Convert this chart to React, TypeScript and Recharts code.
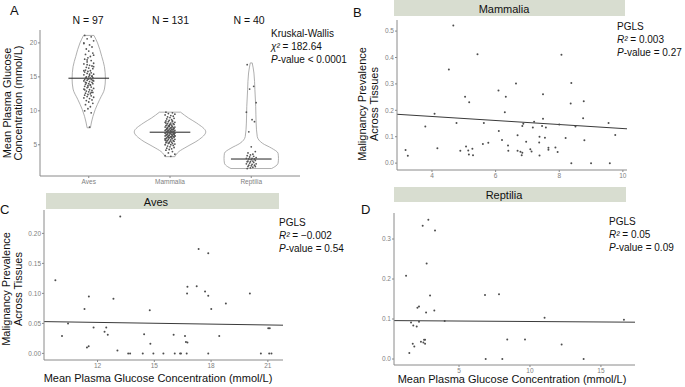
import React from 'react'
import { ComposedChart, Line, Scatter, XAxis, YAxis, ReferenceLine } from 'recharts'

// ---- panel A: glucose by class ----
const groups = ['Aves', 'Mammalia', 'Reptilia']
const groupN = [97, 131, 40]
const medians = [14.8, 6.85, 2.9]

const avesGlucose = [
  21.1, 20.9, 20.6, 20.3, 20.0, 19.7, 19.4, 19.1, 18.8, 18.5,
  18.3, 18.0, 17.8, 17.6, 17.4, 17.2, 17.0, 16.9, 16.7, 16.6,
  16.4, 16.3, 16.2, 16.0, 15.9, 15.8, 15.7, 15.6, 15.5, 15.4,
  15.3, 15.2, 15.1, 15.0, 15.0, 14.9, 14.8, 14.8, 14.7, 14.6,
  14.6, 14.5, 14.4, 14.4, 14.3, 14.2, 14.1, 14.0, 14.0, 13.9,
  13.8, 13.7, 13.6, 13.5, 13.4, 13.3, 13.2, 13.1, 13.0, 12.9,
  12.8, 12.7, 12.6, 12.5, 12.4, 12.3, 12.2, 12.1, 12.0, 11.9,
  11.8, 11.6, 11.5, 11.3, 11.1, 10.9, 10.6, 10.3, 10.0, 9.7,
  16.8, 16.5, 15.9, 15.4, 15.1, 14.9, 14.7, 14.5, 14.2, 13.8,
  13.5, 13.1, 12.7, 17.5, 18.2, 19.9, 7.6,
]
const mammaliaGlucose = [
  9.8, 9.7, 9.6, 9.5, 9.4, 9.3, 9.2, 9.1, 9.0, 8.9,
  8.8, 8.7, 8.6, 8.5, 8.5, 8.4, 8.3, 8.3, 8.2, 8.1,
  8.1, 8.0, 8.0, 7.9, 7.9, 7.8, 7.8, 7.7, 7.7, 7.6,
  7.6, 7.5, 7.5, 7.4, 7.4, 7.4, 7.3, 7.3, 7.2, 7.2,
  7.2, 7.1, 7.1, 7.1, 7.0, 7.0, 7.0, 6.9, 6.9, 6.9,
  6.9, 6.8, 6.8, 6.8, 6.8, 6.7, 6.7, 6.7, 6.6, 6.6,
  6.6, 6.5, 6.5, 6.5, 6.4, 6.4, 6.4, 6.3, 6.3, 6.3,
  6.2, 6.2, 6.2, 6.1, 6.1, 6.0, 6.0, 6.0, 5.9, 5.9,
  5.8, 5.8, 5.7, 5.7, 5.6, 5.6, 5.5, 5.5, 5.4, 5.4,
  5.3, 5.3, 5.2, 5.2, 5.1, 5.0, 5.0, 4.9, 4.8, 4.7,
  4.6, 4.5, 4.4, 4.3, 4.2, 4.0, 3.8, 3.6, 3.4, 3.3,
  7.3, 7.0, 6.8, 6.7, 6.5, 7.6, 7.8, 8.2, 8.4, 6.1,
  6.3, 5.9, 7.1, 6.9, 7.5, 8.0, 6.6, 7.4, 6.2, 7.7, 5.6,
]
const reptiliaGlucose = [
  16.8, 13.6, 13.2, 11.2, 9.8, 8.7, 8.4, 6.9, 4.7, 4.0,
  3.8, 3.6, 3.5, 3.4, 3.3, 3.2, 3.1, 3.0, 3.0, 2.9,
  2.9, 2.8, 2.7, 2.6, 2.6, 2.5, 2.5, 2.4, 2.3, 2.2,
  2.2, 2.1, 2.0, 2.0, 1.9, 1.8, 1.8, 1.7, 1.6, 1.5,
]
// jitter offsets (category units), cycled over the points
const jitter = [-0.05, 0.03, -0.02, 0.06, -0.06, 0.01, 0.04, -0.03, 0.0, 0.05, -0.04, 0.02, -0.01]

// violin outlines: [glucose, half width in category units], bottom to top
const avesViolin = [
  [7.5, 0.02], [9.2, 0.052], [10.2, 0.08], [11.7, 0.136], [13.2, 0.193],
  [14.7, 0.205], [16.5, 0.193], [18.0, 0.16], [20.0, 0.108], [21.1, 0.064],
]
const mammaliaViolin = [
  [3.25, 0.06], [4.0, 0.11], [4.73, 0.21], [5.7, 0.35], [6.9, 0.44],
  [8.18, 0.33], [8.92, 0.23], [9.8, 0.13],
]
const reptiliaViolin = [
  [1.5, 0.25], [1.77, 0.29], [2.28, 0.33], [3.0, 0.335], [3.75, 0.33],
  [4.5, 0.25], [5.2, 0.14], [6.2, 0.074], [8.2, 0.06], [10.6, 0.055],
  [13.1, 0.045], [15.57, 0.033], [17.05, 0.012],
]

// ---- panels B-D: glucose vs malignancy prevalence ----
const mammaliaPoints = [
  [3.17, 0.05], [3.24, 0.028], [3.79, 0.139], [4.08, 0.187], [4.17, 0.056],
  [4.53, 0.355], [4.67, 0.521], [4.77, 0.152], [4.89, 0.047], [5.04, 0.251],
  [5.07, 0.063], [5.14, 0.048], [5.17, 0.231], [5.16, 0.033], [5.27, 0.054],
  [5.29, 0.03], [5.43, 0.412], [5.6, 0.072], [5.63, 0.152], [5.77, 0.077],
  [6.09, 0.275], [6.1, 0.122], [6.2, 0.088], [6.29, 0.193], [6.32, 0.251],
  [6.39, 0.067], [6.4, 0.047], [6.64, 0.302], [6.69, 0.106], [6.69, 0.047],
  [6.78, 0.043], [6.82, 0.03], [6.84, 0.039], [6.84, 0.141], [6.87, 0.149],
  [6.96, 0.081], [7.09, 0.053], [7.13, 0.044], [7.17, 0.135], [7.21, 0.157],
  [7.38, 0.029], [7.38, 0.1], [7.37, 0.078], [7.46, 0.141], [7.49, 0.261],
  [7.49, 0.168], [7.55, 0.096], [7.58, 0.135], [7.66, 0.058], [7.66, 0.051],
  [7.88, 0.059], [7.95, 0.042], [8.0, 0.146], [8.07, 0.41], [8.2, 0.095],
  [8.38, 0.303], [8.36, 0.226], [8.38, 0.0], [8.51, 0.139], [8.75, 0.17],
  [8.77, 0.234], [8.79, 0.087], [9.0, 0.0], [9.55, 0.152], [9.59, 0.0], [9.76, 0.107],
]
const avesPoints = [
  [9.77, 0.122], [10.12, 0.029], [10.44, 0.05], [11.31, 0.074], [11.44, 0.01],
  [11.53, 0.012], [11.54, 0.095], [11.79, 0.043], [12.37, 0.036], [12.46, 0.043],
  [12.54, 0.031], [12.84, 0.091], [13.05, 0.005], [13.2, 0.228], [13.62, 0.0],
  [13.72, 0.0], [14.39, 0.0], [14.46, 0.032], [14.76, 0.072], [14.79, 0.016],
  [14.95, 0.0], [15.48, 0.0], [16.02, 0.031], [16.08, 0.0], [16.36, 0.0],
  [16.41, 0.0], [16.62, 0.029], [16.67, 0.019], [16.75, 0.018], [16.73, 0.1],
  [16.75, 0.111], [16.71, 0.0], [17.24, 0.112], [17.34, 0.174], [17.85, 0.167],
  [17.68, 0.103], [17.85, 0.096], [18.01, 0.074], [17.85, 0.0], [18.78, 0.083],
  [18.43, 0.029], [20.05, 0.1], [20.63, 0.0], [21.02, 0.042], [21.1, 0.042],
  [21.07, 0.0], [21.19, 0.0],
]
const reptiliaPoints = [
  [1.27, 0.208], [1.5, 0.015], [1.62, 0.091], [1.74, 0.038], [1.78, 0.084],
  [1.85, 0.031], [2.02, 0.081], [2.07, 0.128], [2.18, 0.131], [2.18, 0.093],
  [2.32, 0.043], [2.44, 0.333], [2.49, 0.041], [2.54, 0.048], [2.61, 0.048],
  [2.61, 0.038], [2.68, 0.116], [2.72, 0.239], [2.84, 0.348], [2.96, 0.159],
  [3.26, 0.121], [3.31, 0.321], [3.99, 0.095], [6.83, 0.16], [6.88, 0.0],
  [7.82, 0.162], [8.05, 0.0], [8.4, 0.049], [9.65, 0.049], [11.03, 0.103],
  [12.23, 0.036], [13.78, 0.0], [16.62, 0.098],
]
// fitted PGLS lines, end points
const mammaliaFit = [[2.9, 0.185], [10.13, 0.13]]
const avesFit = [[9.17, 0.053], [21.8, 0.047]]
const reptiliaFit = [[0.42, 0.096], [17.4, 0.092]]

const FONT = '"Liberation Sans", Arial, Helvetica, sans-serif'
const AXIS = { stroke: '#8a8a8a', strokeWidth: 1 }
const TICK = { fontSize: 6.5, fill: '#808080', fontFamily: FONT }

const smallDot = (p: any) => <circle cx={p.cx} cy={p.cy} r={0.9} fill="#555" />
const dot = (p: any) => <circle cx={p.cx} cy={p.cy} r={1} fill="#4d4d4d" />

function violinSides(center: number, profile: number[][]) {
  const right = profile.map(([v, w]) => ({ x: center + w, y: v }))
  const left = profile.map(([v, w]) => ({ x: center - w, y: v }))
  return {
    sides: [right, left],
    caps: [
      [left[0], right[0]],
      [left[left.length - 1], right[right.length - 1]],
    ],
  }
}

function PanelA() {
  const values = [avesGlucose, mammaliaGlucose, reptiliaGlucose]
  const profiles = [avesViolin, mammaliaViolin, reptiliaViolin]
  return (
    <div style={{ position: 'absolute', left: 0, top: 0 }}>
      <ComposedChart width={310} height={195} margin={{ top: 30, right: 10, left: 10, bottom: 0 }}>
        <XAxis
          type="number"
          dataKey="x"
          domain={[0.4, 3.6]}
          ticks={[1, 2, 3]}
          allowDataOverflow
          interval={0}
          tickFormatter={(v: number) => groups[v - 1]}
          tick={TICK}
          tickSize={2}
          tickMargin={1}
          axisLine={AXIS}
          tickLine={AXIS}
          height={19}
        />
        <YAxis
          type="number"
          dataKey="y"
          domain={[0.4, 21.9]}
          ticks={[5, 10, 15, 20]}
          allowDataOverflow
          interval={0}
          tick={TICK}
          tickSize={2}
          tickMargin={1}
          axisLine={AXIS}
          tickLine={AXIS}
          width={30}
        />
        {profiles.map((prof, gi) => {
          const v = violinSides(gi + 1, prof)
          return [
            ...v.sides.map((s, si) => (
              <Line
                key={`vs${gi}-${si}`}
                data={s}
                dataKey="y"
                type="monotoneY"
                stroke="#9a9a9a"
                strokeWidth={0.8}
                dot={false}
                activeDot={false}
                isAnimationActive={false}
              />
            )),
            ...v.caps.map((c, ci) => (
              <Line
                key={`vc${gi}-${ci}`}
                data={c}
                dataKey="y"
                type="linear"
                stroke="#9a9a9a"
                strokeWidth={0.8}
                dot={false}
                activeDot={false}
                isAnimationActive={false}
              />
            )),
          ]
        })}
        {values.map((vals, gi) => (
          <Scatter
            key={`pts${gi}`}
            data={vals.map((y, i) => ({ x: gi + 1 + jitter[i % jitter.length], y }))}
            dataKey="y"
            shape={smallDot}
            isAnimationActive={false}
          />
        ))}
        {medians.map((m, gi) => (
          <ReferenceLine
            key={`med${gi}`}
            segment={[{ x: gi + 1 - 0.25, y: m }, { x: gi + 1 + 0.25, y: m }]}
            stroke="#222"
            strokeWidth={1}
          />
        ))}
      </ComposedChart>
    </div>
  )
}

function ScatterPanel(props: {
  left: number
  top: number
  width: number
  height: number
  margin: { top: number; right: number; left: number; bottom: number }
  yWidth: number
  points: number[][]
  fit: number[][]
  xDomain: number[]
  xTicks: number[]
  yDomain: number[]
  yTicks: number[]
  digits: number
}) {
  const data = props.points.map(([x, y]) => ({ x, y }))
  return (
    <div style={{ position: 'absolute', left: props.left, top: props.top }}>
      <ComposedChart width={props.width} height={props.height} margin={props.margin}>
        <XAxis
          type="number"
          dataKey="x"
          domain={props.xDomain}
          ticks={props.xTicks}
          allowDataOverflow
          interval={0}
          tick={TICK}
          tickSize={2}
          tickMargin={1}
          axisLine={AXIS}
          tickLine={AXIS}
          height={12}
        />
        <YAxis
          type="number"
          dataKey="y"
          domain={props.yDomain}
          ticks={props.yTicks}
          allowDataOverflow
          interval={0}
          tickFormatter={(v: number) => v.toFixed(props.digits)}
          tick={TICK}
          tickSize={2}
          tickMargin={1}
          axisLine={AXIS}
          tickLine={AXIS}
          width={props.yWidth}
        />
        <Scatter data={data} dataKey="y" shape={dot} isAnimationActive={false} />
        <ReferenceLine
          segment={[
            { x: props.fit[0][0], y: props.fit[0][1] },
            { x: props.fit[1][0], y: props.fit[1][1] },
          ]}
          stroke="#3a3a3a"
          strokeWidth={1}
          ifOverflow="visible"
        />
      </ComposedChart>
    </div>
  )
}

function Stats({ x, y, lines }: { x: number; y: number; lines: React.ReactNode[] }) {
  return (
    <text x={x} y={y} fontSize={10} fill="#111">
      {lines.map((l, i) => (
        <tspan key={i} x={x} dy={i === 0 ? 0 : 13}>
          {l}
        </tspan>
      ))}
    </text>
  )
}

const Ital = ({ children }: { children: React.ReactNode }) => <tspan fontStyle="italic">{children}</tspan>

export default function App() {
  const nX = [88, 170.5, 249]
  return (
    <div
      style={{
        position: 'absolute',
        left: 0,
        top: 0,
        width: 685,
        height: 387,
        background: '#fff',
        fontFamily: FONT,
        overflow: 'hidden',
      }}
    >
      <PanelA />
      <ScatterPanel
        left={370}
        top={0}
        width={260}
        height={182}
        margin={{ top: 20, right: 3, left: 0, bottom: 0 }}
        yWidth={27}
        points={mammaliaPoints}
        fit={mammaliaFit}
        xDomain={[2.9, 10.13]}
        xTicks={[4, 6, 8, 10]}
        yDomain={[-0.026, 0.542]}
        yTicks={[0, 0.1, 0.2, 0.3, 0.4, 0.5]}
        digits={1}
      />
      <ScatterPanel
        left={0}
        top={200}
        width={290}
        height={172}
        margin={{ top: 10, right: 7, left: 0, bottom: 0 }}
        yWidth={44}
        points={avesPoints}
        fit={avesFit}
        xDomain={[9.17, 21.8]}
        xTicks={[12, 15, 18, 21]}
        yDomain={[-0.011, 0.239]}
        yTicks={[0, 0.05, 0.1, 0.15, 0.2]}
        digits={2}
      />
      <ScatterPanel
        left={370}
        top={203}
        width={268}
        height={174}
        margin={{ top: 10, right: 3, left: 0, bottom: 0 }}
        yWidth={24}
        points={reptiliaPoints}
        fit={reptiliaFit}
        xDomain={[0.42, 17.4]}
        xTicks={[5, 10, 15]}
        yDomain={[-0.015, 0.365]}
        yTicks={[0, 0.1, 0.2, 0.3]}
        digits={1}
      />
      <svg
        width={685}
        height={387}
        style={{ position: 'absolute', left: 0, top: 0, pointerEvents: 'none' }}
        fontFamily={FONT}
      >
        {/* panel letters */}
        <text x={10} y={15} fontSize={13} fill="#111">A</text>
        <text x={353} y={17} fontSize={13} fill="#111">B</text>
        <text x={0} y={214} fontSize={13} fill="#111">C</text>
        <text x={361} y={214} fontSize={13} fill="#111">D</text>

        {/* panel A annotations */}
        {groups.map((g, i) => (
          <text key={g} x={nX[i]} y={24} fontSize={10.5} textAnchor="middle" fill="#111">
            N = {groupN[i]}
          </text>
        ))}
        <Stats
          x={271}
          y={37}
          lines={[
            'Kruskal-Wallis',
            <>
              <Ital>χ²</Ital> = 182.64
            </>,
            <>
              <Ital>P</Ital>-value &lt; 0.0001
            </>,
          ]}
        />
        <text transform="translate(10.5,103) rotate(-90)" fontSize={11} textAnchor="middle" fill="#111">
          Mean Plasma Glucose
        </text>
        <text transform="translate(22,103) rotate(-90)" fontSize={11} textAnchor="middle" fill="#111">
          Concentration (mmol/L)
        </text>

        {/* strips */}
        <rect x={394} y={0} width={231} height={16} fill="#d8ddd0" />
        <text x={504} y={12.5} fontSize={11} textAnchor="middle" fill="#111">Mammalia</text>
        <rect x={46} y={193} width={233} height={16} fill="#d8ddd0" />
        <text x={156} y={205.5} fontSize={11} textAnchor="middle" fill="#111">Aves</text>
        <rect x={394} y={187} width={232} height={15} fill="#d8ddd0" />
        <text x={504} y={199} fontSize={11} textAnchor="middle" fill="#111">Reptilia</text>

        {/* PGLS stats */}
        <Stats
          x={617}
          y={30}
          lines={['PGLS', <><Ital>R²</Ital> = 0.003</>, <><Ital>P</Ital>-value = 0.27</>]}
        />
        <Stats
          x={279}
          y={226}
          lines={['PGLS', <><Ital>R²</Ital> = −0.002</>, <><Ital>P</Ital>-value = 0.54</>]}
        />
        <Stats
          x={609}
          y={225}
          lines={['PGLS', <><Ital>R²</Ital> = 0.05</>, <><Ital>P</Ital>-value = 0.09</>]}
        />

        {/* axis titles for B-D */}
        <text transform="translate(366,104) rotate(-90)" fontSize={11} textAnchor="middle" fill="#111">
          Malignancy Prevalence
        </text>
        <text transform="translate(377.5,104) rotate(-90)" fontSize={11} textAnchor="middle" fill="#111">
          Across Tissues
        </text>
        <text transform="translate(9.5,289) rotate(-90)" fontSize={11} textAnchor="middle" fill="#111">
          Malignancy Prevalence
        </text>
        <text transform="translate(21.5,289) rotate(-90)" fontSize={11} textAnchor="middle" fill="#111">
          Across Tissues
        </text>
        <text x={158} y={382} fontSize={11} textAnchor="middle" fill="#111">
          Mean Plasma Glucose Concentration (mmol/L)
        </text>
        <text x={512} y={383} fontSize={11} textAnchor="middle" fill="#111">
          Mean Plasma Glucose Concentration (mmol/L)
        </text>
      </svg>
    </div>
  )
}
